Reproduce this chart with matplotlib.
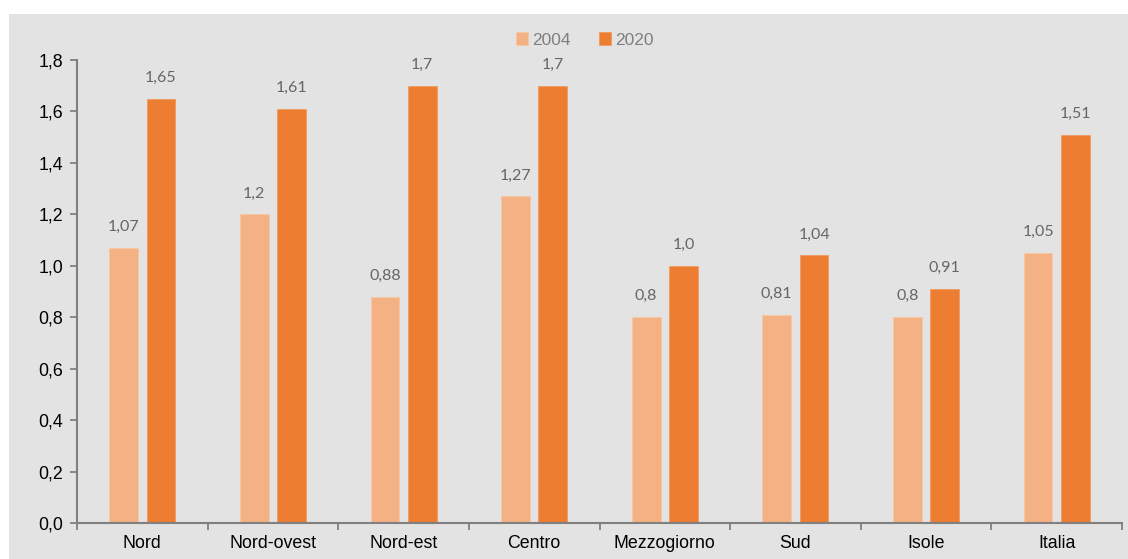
import matplotlib
matplotlib.use("Agg")
import matplotlib.pyplot as plt
from matplotlib.patches import Rectangle
import numpy as np

categories = ["Nord", "Nord-ovest", "Nord-est", "Centro", "Mezzogiorno", "Sud", "Isole", "Italia"]
values_2004 = [1.07, 1.2, 0.88, 1.27, 0.8, 0.81, 0.8, 1.05]
values_2020 = [1.65, 1.61, 1.7, 1.7, 1.0, 1.04, 0.91, 1.51]
labels_2004 = ["1,07", "1,2", "0,88", "1,27", "0,8", "0,81", "0,8", "1,05"]
labels_2020 = ["1,65", "1,61", "1,7", "1,7", "1,0", "1,04", "0,91", "1,51"]
series_names = ["2004", "2020"]

c_light = "#F4B183"
c_dark = "#ED7D31"
bg = "#E3E3E3"

fig = plt.figure(figsize=(11.28, 5.59), dpi=100)
fig.patch.set_facecolor("white")
fig.patches.append(Rectangle((9 / 1128, 0), 1 - 9 / 1128, 1 - 14 / 559,
                             transform=fig.transFigure, facecolor=bg,
                             edgecolor="none", zorder=-10))

ax = fig.add_axes([77 / 1128, 1 - 523 / 559, (1122 - 77) / 1128, (523 - 60) / 559])
ax.set_facecolor(bg)
ax.patch.set_alpha(0)

x = np.arange(len(categories))
w = 0.22
off = 0.143
b1 = ax.bar(x - off, values_2004, w, color=c_light, edgecolor="#F7C7A3", linewidth=0.6, label=series_names[0])
b2 = ax.bar(x + off, values_2020, w, color=c_dark, edgecolor="#F09A5E", linewidth=0.6, label=series_names[1])

for rects, labs in ((b1, labels_2004), (b2, labels_2020)):
    for r, t in zip(rects, labs):
        ax.annotate(t, (r.get_x() + r.get_width() / 2, r.get_height()),
                    xytext=(0, 10), textcoords="offset points", ha="center", va="bottom",
                    fontsize=11.5, color="#666666", family="Lato")

ax.set_xlim(-0.5, len(categories) - 0.5)
ax.set_ylim(0, 1.8)
ax.set_yticks(np.arange(0, 1.81, 0.2))
ax.set_yticklabels([f"{v:.1f}".replace(".", ",") for v in np.arange(0, 1.81, 0.2)])

ax.set_xticks(x)
ax.set_xticklabels(categories)
ax.set_xticks(np.arange(-0.5, len(categories)), minor=True)
ax.tick_params(axis="x", which="major", length=0, pad=9, labelsize=12.8, labelcolor="black")
ax.tick_params(axis="x", which="minor", length=5, width=1.3, color="#808080", direction="out")
ax.tick_params(axis="y", length=5, width=1.3, color="#808080", labelsize=12.8, labelcolor="black", pad=5)
for lab in ax.get_xticklabels() + ax.get_yticklabels():
    lab.set_family("Liberation Sans")

for s in ("top", "right"):
    ax.spines[s].set_visible(False)
for s in ("left", "bottom"):
    ax.spines[s].set_color("#808080")
    ax.spines[s].set_linewidth(1.5)

leg = ax.legend(loc="center", bbox_to_anchor=(585 / 1128, 1 - 40 / 559), bbox_transform=fig.transFigure,
                ncol=2, frameon=False, handlelength=0.7, handleheight=0.7, handletextpad=0.25,
                columnspacing=1.6, prop={"family": "Liberation Sans", "size": 12.5})
for t in leg.get_texts():
    t.set_color("#7F7F7F")

fig.savefig("out.png", dpi=100)
